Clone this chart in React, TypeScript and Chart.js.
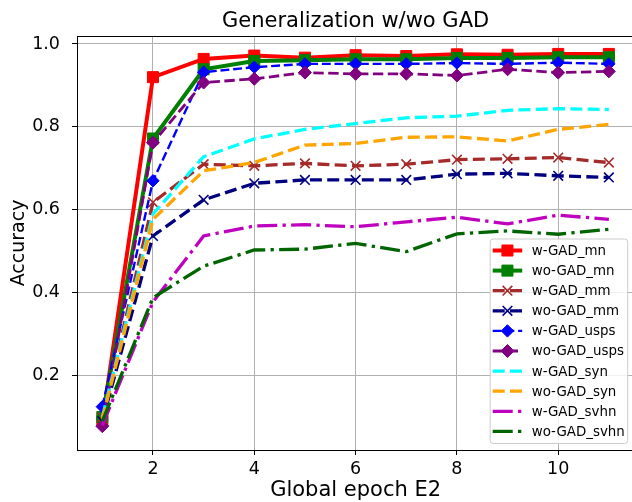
import React, { useEffect, useRef } from "react";
import { Chart, registerables } from "chart.js";

Chart.register(...registerables);

// ---- data ----
const epochs = [1, 2, 3, 4, 5, 6, 7, 8, 9, 10, 11];
const xTickValues = [2, 4, 6, 8, 10];
const yTickValues = [0.2, 0.4, 0.6, 0.8, 1.0];

const seriesLabels = [
  "w-GAD_mn",
  "wo-GAD_mn",
  "w-GAD_mm",
  "wo-GAD_mm",
  "w-GAD_usps",
  "wo-GAD_usps",
  "w-GAD_syn",
  "wo-GAD_syn",
  "w-GAD_svhn",
  "wo-GAD_svhn",
];

const wGadMn = [0.09, 0.92, 0.964, 0.972, 0.967, 0.973, 0.971, 0.975, 0.974, 0.976, 0.976];
const woGadMn = [0.1, 0.772, 0.939, 0.959, 0.961, 0.963, 0.963, 0.966, 0.966, 0.968, 0.968];
const wGadMm = [0.1, 0.618, 0.71, 0.706, 0.712, 0.706, 0.71, 0.721, 0.723, 0.726, 0.714];
const woGadMm = [0.09, 0.537, 0.624, 0.664, 0.672, 0.672, 0.672, 0.686, 0.688, 0.682, 0.678];
const wGadUsps = [0.125, 0.67, 0.932, 0.944, 0.952, 0.952, 0.952, 0.954, 0.952, 0.955, 0.952];
const woGadUsps = [0.078, 0.762, 0.907, 0.916, 0.931, 0.928, 0.928, 0.924, 0.939, 0.931, 0.934];
const wGadSyn = [0.1, 0.59, 0.728, 0.771, 0.794, 0.808, 0.822, 0.826, 0.84, 0.844, 0.842];
const woGadSyn = [0.095, 0.577, 0.694, 0.714, 0.756, 0.76, 0.775, 0.776, 0.766, 0.794, 0.806];
const wGadSvhn = [0.08, 0.378, 0.537, 0.561, 0.564, 0.559, 0.571, 0.582, 0.566, 0.587, 0.577];
const woGadSvhn = [0.09, 0.388, 0.464, 0.503, 0.505, 0.519, 0.499, 0.542, 0.549, 0.541, 0.553];

const seriesValues = [
  wGadMn, woGadMn, wGadMm, woGadMm, wGadUsps, woGadUsps, wGadSyn, woGadSyn, wGadSvhn, woGadSvhn,
];

// ---- styles ----
type Style = { color: string; width: number; dash: number[]; point: string | false; r: number; pw: number };
const seriesStyles: Style[] = [
  { color: "#ff0000", width: 4, dash: [], point: "rect", r: 7.8, pw: 1 },
  { color: "#008000", width: 4, dash: [], point: "rect", r: 7.8, pw: 1 },
  { color: "#a52a2a", width: 3.3, dash: [12, 5.3], point: "crossRot", r: 6.8, pw: 1.6 },
  { color: "#000080", width: 3.3, dash: [12, 5.3], point: "crossRot", r: 6.8, pw: 1.6 },
  { color: "#0000ff", width: 2.4, dash: [8.9, 3.8], point: "rectRot", r: 6.2, pw: 1 },
  { color: "#800080", width: 2.8, dash: [10.4, 4.5], point: "rectRot", r: 6.5, pw: 1 },
  { color: "#00ffff", width: 3.3, dash: [12, 5.3], point: false, r: 0, pw: 0 },
  { color: "#ffa500", width: 3.3, dash: [12, 5.3], point: false, r: 0, pw: 0 },
  { color: "#bf00bf", width: 3.3, dash: [20, 5.3, 3.3, 5.3], point: false, r: 0, pw: 0 },
  { color: "#006400", width: 3.3, dash: [20, 5.3, 3.3, 5.3], point: false, r: 0, pw: 0 },
];

const FONT = "DejaVu Sans";

function drawMarker(ctx: CanvasRenderingContext2D, s: Style, x: number, y: number) {
  if (!s.point) return;
  ctx.save();
  ctx.setLineDash([]);
  ctx.fillStyle = s.color;
  ctx.strokeStyle = s.color;
  ctx.lineWidth = s.pw;
  ctx.beginPath();
  if (s.point === "rect") {
    const h = Math.SQRT1_2 * s.r;
    ctx.rect(x - h, y - h, 2 * h, 2 * h);
    ctx.fill();
    ctx.stroke();
  } else if (s.point === "rectRot") {
    ctx.moveTo(x, y - s.r);
    ctx.lineTo(x + s.r, y);
    ctx.lineTo(x, y + s.r);
    ctx.lineTo(x - s.r, y);
    ctx.closePath();
    ctx.fill();
    ctx.stroke();
  } else if (s.point === "crossRot") {
    const h = Math.SQRT1_2 * s.r;
    ctx.moveTo(x - h, y - h);
    ctx.lineTo(x + h, y + h);
    ctx.moveTo(x - h, y + h);
    ctx.lineTo(x + h, y - h);
    ctx.stroke();
  }
  ctx.restore();
}

const framePlugin = {
  id: "frameAndLegend",
  afterDraw(chart: any) {
    const ctx: CanvasRenderingContext2D = chart.ctx;
    const area = chart.chartArea;
    // top spine
    ctx.save();
    ctx.strokeStyle = "#000";
    ctx.lineWidth = 1;
    ctx.beginPath();
    ctx.moveTo(area.left, area.top + 0.5);
    ctx.lineTo(area.right, area.top + 0.5);
    ctx.stroke();
    ctx.restore();

    // legend
    const boxW = 137.5;
    const boxH = 204.5;
    const bx = area.right - 7 - boxW;
    const by = area.bottom - 7 - boxH;
    ctx.save();
    ctx.beginPath();
    (ctx as any).roundRect(bx + 0.5, by + 0.5, boxW, boxH, 3);
    ctx.fillStyle = "rgba(255,255,255,0.8)";
    ctx.fill();
    ctx.strokeStyle = "#cccccc";
    ctx.lineWidth = 1;
    ctx.stroke();
    ctx.font = `13.4px "${FONT}"`;
    ctx.textBaseline = "middle";
    ctx.textAlign = "left";
    seriesLabels.forEach((label, i) => {
      const s = seriesStyles[i];
      const cy = by + 12 + i * 20.1;
      const lx0 = bx + 3;
      const lx1 = bx + 32.5;
      ctx.save();
      ctx.strokeStyle = s.color;
      ctx.lineWidth = s.width;
      ctx.setLineDash(s.dash);
      ctx.lineCap = "butt";
      ctx.beginPath();
      ctx.moveTo(lx0, cy);
      ctx.lineTo(lx1, cy);
      ctx.stroke();
      ctx.restore();
      drawMarker(ctx, s, (lx0 + lx1) / 2, cy);
      ctx.fillStyle = "#000";
      ctx.fillText(label, bx + 42, cy + 1);
    });
    ctx.restore();
  },
};

export default function App() {
  const ref = useRef<HTMLCanvasElement>(null);

  useEffect(() => {
    if (!ref.current) return;
    Chart.defaults.font.family = FONT;
    const datasets = seriesLabels.map((label, i) => {
      const s = seriesStyles[i];
      return {
        label,
        data: epochs.map((x, j) => ({ x, y: seriesValues[i][j] })),
        borderColor: s.color,
        backgroundColor: s.color,
        borderWidth: s.width,
        borderDash: s.dash,
        pointStyle: s.point || "circle",
        pointRadius: s.point ? s.r : 0,
        pointHoverRadius: s.point ? s.r : 0,
        pointBorderWidth: s.pw,
        pointBackgroundColor: s.color,
        pointBorderColor: s.color,
        tension: 0,
        fill: false,
        order: seriesLabels.length - i,
      };
    });

    const chart = new Chart(ref.current, {
      type: "line",
      data: { datasets },
      options: {
        animation: false,
        responsive: false,
        layout: { padding: 0 },
        plugins: {
          legend: { display: false },
          tooltip: { enabled: false },
          title: {
            display: true,
            text: "Generalization w/wo GAD",
            color: "#000",
            font: { size: 21, weight: "normal", family: FONT, lineHeight: 1.2 },
            padding: { top: 8.6, bottom: 2.2 },
            fullSize: false,
          } as any,
        },
        scales: {
          x: {
            type: "linear",
            min: 0.5,
            max: 11.5,
            afterBuildTicks: (scale: any) => {
              scale.ticks = xTickValues.map((v) => ({ value: v }));
            },
            afterFit: (scale: any) => {
              scale.height = 52;
            },
            ticks: {
              color: "#000",
              font: { size: 17.5, family: FONT },
              padding: 4,
              maxRotation: 0,
              callback: (v: any) => String(v),
            },
            grid: { color: "#b0b0b0", lineWidth: 1, tickLength: 5, tickColor: "#000" } as any,
            border: { color: "#000", width: 1 },
            title: {
              display: true,
              text: "Global epoch E2",
              color: "#000",
              font: { size: 21, family: FONT, lineHeight: 1.0 },
              padding: { top: 0, bottom: 1.3 },
            },
          },
          y: {
            type: "linear",
            min: 0.0205,
            max: 1.0193,
            afterBuildTicks: (scale: any) => {
              scale.ticks = yTickValues.map((v) => ({ value: v }));
            },
            afterFit: (scale: any) => {
              scale.width = 77;
            },
            ticks: {
              color: "#000",
              font: { size: 17.5, family: FONT },
              padding: 12,
              callback: (v: any) => Number(v).toFixed(1),
            },
            grid: { color: "#b0b0b0", lineWidth: 1, tickLength: 5, tickColor: "#000" } as any,
            border: { color: "#000", width: 1 },
            title: {
              display: true,
              text: "Accuracy",
              color: "#000",
              font: { size: 19, family: FONT },
              padding: { top: 8, bottom: 0 },
            },
          },
        },
      },
      plugins: [framePlugin],
    } as any);
    return () => chart.destroy();
  }, []);

  return (
    <div
      style={{
        position: "fixed",
        left: 0,
        top: 0,
        width: 632,
        height: 502,
        overflow: "hidden",
        background: "#fff",
      }}
    >
      <canvas ref={ref} width={643} height={502} style={{ display: "block", width: 643, height: 502 }} />
    </div>
  );
}
